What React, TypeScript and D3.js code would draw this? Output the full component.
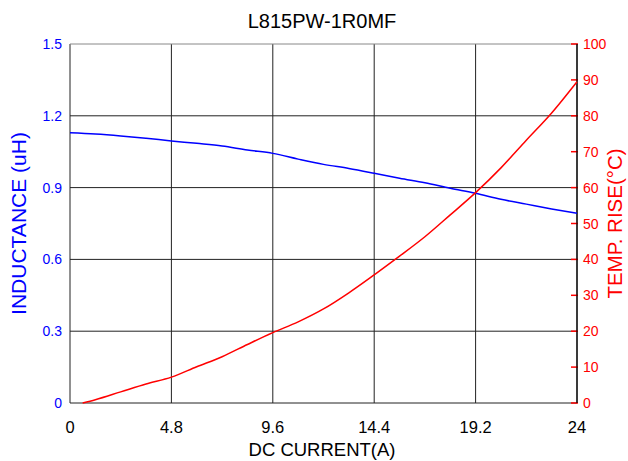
import React from 'react';
import * as d3 from 'd3';

// DC current (A) sample points
const current = [0, 1.2, 2.4, 3.6, 4.8, 6.0, 7.2, 8.4, 9.6, 10.8, 12.0, 13.2, 14.4, 15.6, 16.8, 18.0, 19.2, 20.4, 21.6, 22.8, 24];
const inductance = [1.129, 1.124, 1.116, 1.106, 1.095, 1.085, 1.074, 1.057, 1.043, 1.019, 0.997, 0.98, 0.96, 0.939, 0.92, 0.897, 0.876, 0.851, 0.831, 0.811, 0.793];

const tempCurrent = [0.6, 1.2, 2.4, 3.6, 4.8, 6.0, 7.2, 8.4, 9.6, 10.8, 12.0, 13.2, 14.4, 15.6, 16.8, 18.0, 19.2, 20.4, 21.6, 22.8, 24];
const tempRise = [0, 0.9, 3.1, 5.3, 7.2, 10.1, 12.9, 16.3, 19.6, 22.6, 26.2, 30.7, 35.7, 40.9, 46.3, 52.4, 58.6, 65.5, 73.2, 80.8, 89.5];

const xTicks = [0, 4.8, 9.6, 14.4, 19.2, 24];
const yLeftTicks = [0, 0.3, 0.6, 0.9, 1.2, 1.5];
const yRightTicks = [0, 10, 20, 30, 40, 50, 60, 70, 80, 90, 100];

const W = 628;
const H = 461;
const m = { left: 70, right: 577, top: 44, bottom: 403 };
const font = 'Liberation Sans, Arial, sans-serif';

export default function App() {
  const x = d3.scaleLinear().domain([0, 24]).range([m.left, m.right]);
  const yL = d3.scaleLinear().domain([0, 1.5]).range([m.bottom, m.top]);
  const yR = d3.scaleLinear().domain([0, 100]).range([m.bottom, m.top]);

  const indLine = d3.line<number>()
    .x((_, i) => x(current[i]))
    .y(d => yL(d))
    .curve(d3.curveMonotoneX);
  const tempLine = d3.line<number>()
    .x((_, i) => x(tempCurrent[i]))
    .y(d => yR(d))
    .curve(d3.curveMonotoneX);

  return (
    <svg width={W} height={H} style={{ position: 'absolute', left: 0, top: 0, background: '#fff' }} fontFamily={font}>
      <rect x={0} y={0} width={W} height={H} fill="#fff" />
      <text x={322} y={28} textAnchor="middle" fontSize={20} fill="#000">L815PW-1R0MF</text>

      {/* grid */}
      {xTicks.map(t => (
        <line key={'gx' + t} x1={x(t)} x2={x(t)} y1={m.top} y2={m.bottom} stroke="#222" strokeWidth={1} />
      ))}
      {yLeftTicks.map(t => (
        <line key={'gy' + t} x1={m.left} x2={m.right} y1={yL(t)} y2={yL(t)}
          stroke={t === 1.5 ? '#888' : '#222'} strokeWidth={1} />
      ))}

      {/* right ticks */}
      {yRightTicks.map(t => (
        <line key={'rt' + t} x1={m.right - 6} x2={m.right + 1} y1={yR(t)} y2={yR(t)} stroke="#ff0000" strokeWidth={1.5} />
      ))}
      <line x1={m.right} x2={m.right} y1={m.top} y2={m.bottom} stroke="#000" strokeWidth={1.2} />

      {/* curves */}
      <path d={indLine(inductance) || ''} fill="none" stroke="#0000ff" strokeWidth={1.5} />
      <path d={tempLine(tempRise) || ''} fill="none" stroke="#ff0000" strokeWidth={1.5} />

      {/* left tick labels */}
      {yLeftTicks.map(t => (
        <text key={'ly' + t} x={62} y={yL(t) + 5} textAnchor="end" fontSize={14} fill="#0000ff">
          {t === 0 ? '0' : t.toFixed(1)}
        </text>
      ))}
      {/* right tick labels */}
      {yRightTicks.map(t => (
        <text key={'ry' + t} x={583} y={yR(t) + 5} textAnchor="start" fontSize={14} fill="#ff0000">{t}</text>
      ))}
      {/* x tick labels */}
      {xTicks.map(t => (
        <text key={'xl' + t} x={x(t)} y={433} textAnchor="middle" fontSize={16.5} fill="#000">{t}</text>
      ))}

      <text x={322} y={456} textAnchor="middle" fontSize={18.5} fill="#000">DC CURRENT(A)</text>
      <text transform={`translate(26,${(m.top + m.bottom) / 2}) rotate(-90)`} textAnchor="middle" fontSize={21} fill="#0000ff">
        INDUCTANCE (uH)
      </text>
      <text transform={`translate(622,${(m.top + m.bottom) / 2}) rotate(-90)`} textAnchor="middle" fontSize={20.5} fill="#ff0000">
        TEMP. RISE(°C)
      </text>
    </svg>
  );
}
